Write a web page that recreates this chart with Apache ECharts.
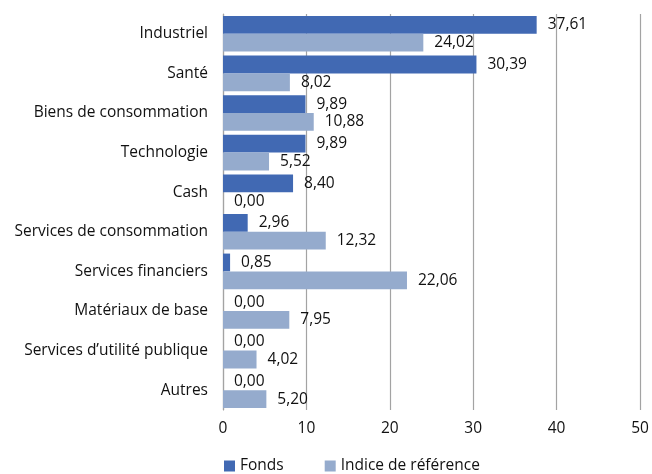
<!DOCTYPE html>
<html>
<head>
<meta charset="utf-8">
<script src="https://cdn.jsdelivr.net/npm/echarts@6/dist/echarts.min.js"></script>
<style>
  html, body { margin: 0; padding: 0; background: #fff; }
  #chart { width: 652px; height: 474px; }
</style>
</head>
<body>
<div id="chart"></div>
<script>
// Sector weights (%) for the fund and its benchmark
const categories = [
  'Industriel', 'Santé', 'Biens de consommation', 'Technologie', 'Cash',
  'Services de consommation', 'Services financiers', 'Matériaux de base',
  'Services d\u2019utilité publique', 'Autres'
];
const fonds = [37.61, 30.39, 9.89, 9.89, 8.40, 2.96, 0.85, 0.00, 0.00, 0.00];
const indice = [24.02, 8.02, 10.88, 5.52, 0.00, 12.32, 22.06, 7.95, 4.02, 5.20];
const seriesNames = ['Fonds', 'Indice de référence'];

const FONT = '"Open Sans", "Noto Sans", sans-serif';
const TEXT = '#111111';
const fmt = p => p.value.toFixed(2).replace('.', ',');

const labelStyle = {
  show: true,
  position: 'right',
  distance: 11,
  formatter: fmt,
  color: TEXT,
  fontFamily: FONT,
  fontSize: 15.5
};

const chart = echarts.init(document.getElementById('chart'));
chart.setOption({
  animation: false,
  textStyle: { fontFamily: FONT },
  grid: { left: 223, right: 12, top: 14, bottom: 64, containLabel: false },
  legend: {
    bottom: -5,
    left: 219,
    itemWidth: 11,
    itemHeight: 11,
    itemGap: 41,
    icon: 'rect',
    textStyle: { fontFamily: FONT, fontSize: 15.5, color: TEXT },
    data: seriesNames
  },
  xAxis: {
    type: 'value',
    min: 0,
    max: 50,
    interval: 10,
    axisLine: { show: false },
    axisTick: { show: false },
    splitLine: { show: true, lineStyle: { color: '#a3a3a3', width: 1.2 } },
    axisLabel: { color: TEXT, fontSize: 15.5, fontFamily: FONT, margin: 11 }
  },
  yAxis: {
    type: 'category',
    inverse: true,
    data: categories,
    axisLine: { show: true, lineStyle: { color: '#a3a3a3', width: 1.2 } },
    axisTick: { show: false },
    axisLabel: { color: TEXT, fontSize: 15.5, fontFamily: FONT, margin: 15 }
  },
  series: [
    {
      name: seriesNames[0],
      type: 'bar',
      data: fonds,
      barGap: '0%',
      barCategoryGap: '10%',
      itemStyle: { color: '#4169b3' },
      label: labelStyle
    },
    {
      name: seriesNames[1],
      type: 'bar',
      data: indice,
      itemStyle: { color: '#95abcd' },
      label: labelStyle
    }
  ]
});
</script>
</body>
</html>
